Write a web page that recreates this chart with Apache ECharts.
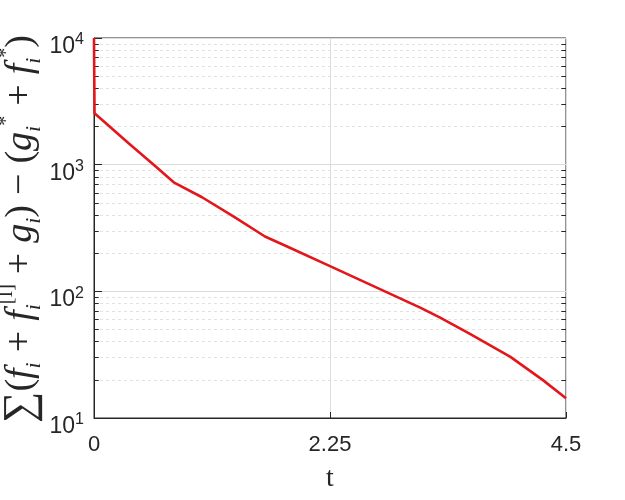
<!DOCTYPE html>
<html>
<head>
<meta charset="utf-8">
<script src="https://cdn.jsdelivr.net/npm/echarts@6/dist/echarts.min.js"></script>
<style>
html,body{margin:0;padding:0;background:#fff;}
#chart{width:625px;height:500px;}
</style>
</head>
<body>
<div id="chart"></div>
<script>
// curve (t, value)
var tVals = [0, 0.005, 0.33, 0.58, 0.76, 1.03, 1.34, 1.63, 1.82, 2.25, 3.11, 3.30, 3.58, 3.97, 4.28, 4.5];
var yVals = [10000, 2550, 1475, 982, 726, 553, 385, 271, 230, 158, 74.4, 62, 46.4, 30.4, 19.9, 14.3];
var xTicks = [0, 2.25, 4.5];
var minorVals = [20, 30, 40, 50, 60, 70, 80, 90, 200, 300, 400, 500, 600, 700, 800, 900, 2000, 3000, 4000, 5000, 6000, 7000, 8000, 9000];
var yTitle = '{S|∑}{m|(}{i|f}{s|i}{o|+}{i|f}{s|i}{p|[I]}{o|+}{i|g}{s|i}{m|)}{o|−}{m|(}{i|g}{s|i}{p|*}{o|+}{i|f}{s|i}{p|*}{m|)}';

var axisColor = '#262626';
var lineData = [];
for (var i = 0; i < tVals.length; i++) {
    lineData.push([tVals[i], yVals[i]]);
}

// dashed minor grid lines
var minorGrid = [];
for (var j = 0; j < minorVals.length; j++) {
    minorGrid.push({yAxis: minorVals[j]});
}
// small inner ticks, left and right
var minorTicks = [];
for (var k = 0; k < minorVals.length; k++) {
    minorTicks.push([{coord: [0, minorVals[k]]}, {coord: [0.045, minorVals[k]]}]);
    minorTicks.push([{coord: [4.455, minorVals[k]]}, {coord: [4.5, minorVals[k]]}]);
}

var serif = 'Liberation Serif';
var chart = echarts.init(document.getElementById('chart'));
var option = {
    animation: false,
    backgroundColor: '#fff',
    grid: {left: 94, right: 59, top: 38, bottom: 82, outerBoundsMode: 'none', containLabel: false,
        show: true, borderColor: axisColor, borderWidth: 1, backgroundColor: 'transparent'},
    graphic: [{
        type: 'text',
        x: 21, y: 229,
        rotation: Math.PI / 2,
        style: {
            text: yTitle,
            align: 'center', verticalAlign: 'middle',
            fill: axisColor,
            rich: {
                S: {fontFamily: serif, fontSize: 44, fill: axisColor, lineHeight: 48},
                m: {fontFamily: serif, fontSize: 38, fill: axisColor, lineHeight: 48},
                o: {fontFamily: serif, fontSize: 38, fill: axisColor, lineHeight: 48, padding: [0, 10, 0, 10]},
                i: {fontFamily: serif, fontStyle: 'italic', fontSize: 38, fill: axisColor, lineHeight: 48},
                s: {fontFamily: serif, fontStyle: 'italic', fontSize: 22, fill: axisColor, verticalAlign: 'bottom', lineHeight: 48},
                p: {fontFamily: serif, fontSize: 20, fill: axisColor, verticalAlign: 'top', lineHeight: 48}
            }
        }
    }],
    xAxis: {
        type: 'value', min: 0, max: 4.5, interval: 2.25,
        name: 't', nameLocation: 'middle', nameGap: 47,
        nameTextStyle: {fontFamily: serif, fontSize: 28, color: axisColor},
        axisLine: {show: true, lineStyle: {color: axisColor}},
        axisTick: {show: true, inside: true, length: 6, lineStyle: {color: axisColor}},
        axisLabel: {fontFamily: 'Liberation Sans', fontSize: 22, color: axisColor, margin: 16,
            formatter: function(v){ return String(v); }},
        splitLine: {show: true, lineStyle: {color: '#dcdcdc', width: 1}}
    },
    yAxis: {
        type: 'log', logBase: 10, min: 10, max: 10000,
        axisLine: {show: true, lineStyle: {color: axisColor}},
        axisTick: {show: true, inside: true, length: 8, lineStyle: {color: axisColor}},
        axisLabel: {
            margin: 10,
            padding: [14, 0, 0, 0],
            formatter: function(v){
                var e = Math.round(Math.log(v) / Math.LN10);
                return '{b|10}{e|' + e + '}';
            },
            rich: {
                b: {fontFamily: 'Liberation Sans', fontSize: 23, color: axisColor, verticalAlign: 'bottom', lineHeight: 26},
                e: {fontFamily: 'Liberation Sans', fontSize: 16, color: axisColor, verticalAlign: 'top', lineHeight: 26}
            }
        },
        splitLine: {show: true, lineStyle: {color: '#dcdcdc', width: 1}}
    },
    series: [
        {
            type: 'line',
            data: [],
            silent: true,
            markLine: {
                symbol: 'none', silent: true, label: {show: false},
                lineStyle: {color: '#e2e2e2', type: [3, 3], width: 1},
                data: minorGrid
            }
        },
        {
            type: 'line',
            data: [],
            silent: true,
            markLine: {
                symbol: 'none', silent: true, label: {show: false},
                lineStyle: {color: axisColor, type: 'solid', width: 1},
                data: minorTicks
            }
        },
        {
            type: 'line',
            data: lineData,
            showSymbol: false,
            lineStyle: {color: '#e3161b', width: 2.6},
            z: 5
        }
    ]
};
chart.setOption(option);
</script>
</body>
</html>
